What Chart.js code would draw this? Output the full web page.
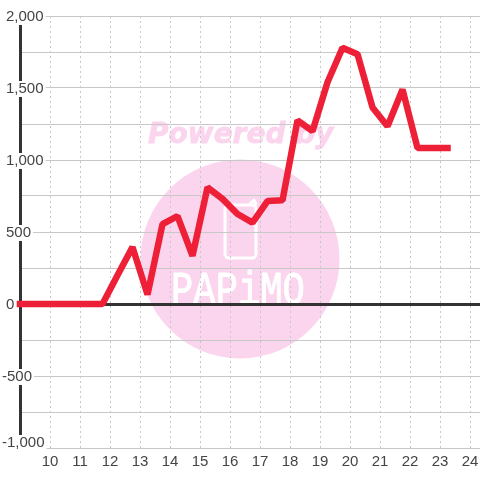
<!DOCTYPE html>
<html lang="en">
<head>
  <meta charset="UTF-8" />
  <title>Chart</title>
  <style>
    html, body { margin: 0; padding: 0; background: #ffffff; }
    canvas { display: block; }
  </style>
</head>
<body>
  <canvas id="chart" width="480" height="480"></canvas>
  <script src="https://cdn.jsdelivr.net/npm/chart.js"></script>
  <script>
    const hours = [9, 11.75, 12.25, 12.75, 13.25, 13.75, 14.25, 14.75, 15.25, 15.75, 16.25, 16.75,
      17.25, 17.75, 18.25, 18.75, 19.25, 19.75, 20.25, 20.75, 21.25, 21.75, 22.25, 22.75, 23.25];
    const values = [0, 0, 200, 395, 65, 555, 610, 335, 810, 730, 625, 565,
      715, 720, 1275, 1200, 1540, 1780, 1735, 1365, 1235, 1490, 1083, 1083, 1083];
    const yTickValues = [2000, 1500, 1000, 500, 0, -500, -1000];
    const yTickLabels = ['2,000', '1,500', '1,000', '500', '0', '-500', '-1,000'];
    const xTickValues = [10, 11, 12, 13, 14, 15, 16, 17, 18, 19, 20, 21, 22, 23, 24];
    const xTickLabels = ['10', '11', '12', '13', '14', '15', '16', '17', '18', '19', '20', '21', '22', '23', '24'];

    const textColor = '#444444';
    const gridColor = '#c8c8c8';
    const axisColor = '#333333';
    const pink = '#fbd5ee';

    // logo behind the grid
    const watermark = {
      id: 'watermark',
      beforeDraw(chart) {
        const c = chart.ctx;
        c.save();
        c.fillStyle = pink;
        c.beginPath();
        c.arc(240, 259, 99.5, 0, Math.PI * 2);
        c.fill();
        c.font = 'italic bold 28px "DejaVu Sans"';
        c.textBaseline = 'alphabetic';
        c.textAlign = 'left';
        c.strokeStyle = pink;
        c.lineWidth = 0.8;
        c.fillText('Powered by', 148, 143);
        c.strokeText('Powered by', 148, 143);

        c.strokeStyle = '#ffffff';
        c.lineWidth = 3;
        c.lineJoin = 'round';
        c.beginPath();
        c.roundRect(225, 205, 31, 53, 4);
        c.moveTo(249, 205);
        c.lineTo(254, 200);
        c.lineTo(256, 205);
        c.stroke();

        c.fillStyle = '#ffffff';
        c.font = '40px "Liberation Mono"';
        c.lineWidth = 0.8;
        c.translate(171, 304);
        c.scale(0.93, 1.15);
        c.fillText('PAPiMO', 0, 0);
        c.strokeText('PAPiMO', 0, 0);
        c.restore();
      }
    };

    // y labels: minus signs hang to the left, the lowest label sits above the edge
    const nudgeYLabels = {
      id: 'nudgeYLabels',
      afterLayout(chart) {
        chart.scales.y.getLabelItems().forEach(item => {
          const text = item.label;
          item.options.translation[1] += 1;
          if (text.startsWith('-')) item.options.translation[0] -= 4;
          if (text === '-1,000') item.options.translation[1] -= 6;
        });
      }
    };

    new Chart(document.getElementById('chart'), {
      type: 'line',
      data: {
        datasets: [{
          data: hours.map((h, i) => ({ x: h, y: values[i] })),
          borderColor: '#ee2038',
          borderWidth: 6.5,
          borderCapStyle: 'square',
          borderJoinStyle: 'bevel',
          pointRadius: 0,
          tension: 0,
          clip: false
        }]
      },
      plugins: [watermark, nudgeYLabels],
      options: {
        responsive: false,
        animation: false,
        layout: { padding: { left: 20, top: 16, right: 0, bottom: 0 } },
        plugins: { legend: { display: false }, tooltip: { enabled: false } },
        scales: {
          x: {
            type: 'linear',
            min: 9,
            max: 24.333,
            afterFit: s => { s.height = 32; s.paddingLeft = 0; s.paddingRight = 0; },
            border: { display: false, dash: [2, 3] },
            grid: { color: gridColor, lineWidth: 1, drawTicks: false },
            ticks: {
              stepSize: 1,
              includeBounds: false,
              autoSkip: false,
              maxRotation: 0,
              padding: 5,
              color: textColor,
              font: { family: '"Liberation Sans"', size: 15 },
              callback: v => {
                const i = xTickValues.indexOf(v);
                return i < 0 ? '' : xTickLabels[i];
              }
            }
          },
          y: {
            min: -1000,
            max: 2000,
            afterFit: s => { s.width = 0; s.paddingTop = 0; s.paddingBottom = 0; },
            border: { color: axisColor, width: 3 },
            grid: {
              drawTicks: false,
              color: ctx => ctx.tick.value === 0 ? axisColor : gridColor,
              lineWidth: ctx => ctx.tick.value === 0 ? 3 : 1
            },
            ticks: {
              stepSize: 250,
              autoSkip: false,
              mirror: true,
              padding: -14,
              color: textColor,
              font: { family: '"Liberation Sans"', size: 15 },
              showLabelBackdrop: true,
              backdropColor: '#ffffff',
              backdropPadding: { top: -1, bottom: -1, left: 2, right: 2 },
              callback: v => {
                const i = yTickValues.indexOf(v);
                return i < 0 ? '' : yTickLabels[i];
              }
            }
          }
        }
      }
    });
  </script>
</body>
</html>
